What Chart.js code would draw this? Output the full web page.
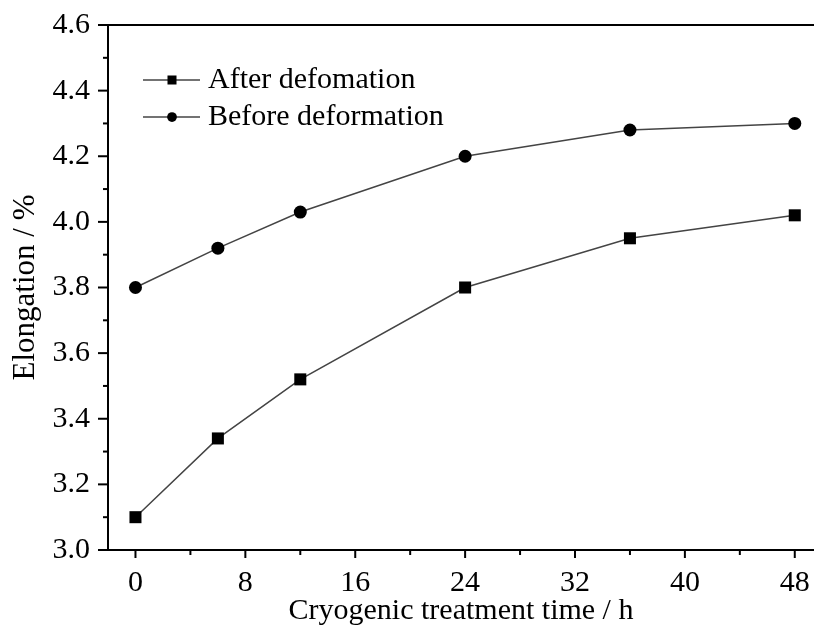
<!DOCTYPE html>
<html>
<head>
<meta charset="utf-8">
<script src="https://cdn.jsdelivr.net/npm/chart.js@4"></script>
<style>
  body { margin: 0; background: #fff; }
  #wrap { width: 814px; height: 631px; }
</style>
</head>
<body>
<div id="wrap"><canvas id="myChart"></canvas></div>
<script>
// data
const hours = [0, 6, 12, 24, 36, 48];
const afterDef = [3.10, 3.34, 3.52, 3.80, 3.95, 4.02];
const beforeDef = [3.80, 3.92, 4.03, 4.20, 4.28, 4.30];
const xTicks = [0, 8, 16, 24, 32, 40, 48];
const yTicks = [3.0, 3.2, 3.4, 3.6, 3.8, 4.0, 4.2, 4.4, 4.6];
const seriesNames = ['After defomation', 'Before deformation'];

const toXY = (xs, ys) => xs.map((x, i) => ({ x: x, y: ys[i] }));
const FONT = '"Liberation Serif", "Times New Roman", serif';

// ticks (major outside + minor midway), top frame, legend
const framePlugin = {
    id: 'frame',
    afterDraw(chart) {
        const ctx = chart.ctx;
        const a = chart.chartArea;
        const xs = chart.scales.x, ys = chart.scales.y;
        ctx.save();
        ctx.strokeStyle = '#000';
        ctx.lineWidth = 2;
        // top frame line
        ctx.beginPath();
        ctx.moveTo(a.left - 1, a.top);
        ctx.lineTo(a.right, a.top);
        ctx.stroke();
        // x ticks
        xTicks.forEach((v, i) => {
            const px = xs.getPixelForValue(v);
            ctx.beginPath(); ctx.moveTo(px, a.bottom); ctx.lineTo(px, a.bottom + 8); ctx.stroke();
            if (i < xTicks.length - 1) {
                const mx = xs.getPixelForValue((v + xTicks[i + 1]) / 2);
                ctx.beginPath(); ctx.moveTo(mx, a.bottom); ctx.lineTo(mx, a.bottom + 5); ctx.stroke();
            }
        });
        // y ticks
        yTicks.forEach((v, i) => {
            const py = ys.getPixelForValue(v);
            ctx.beginPath(); ctx.moveTo(a.left, py); ctx.lineTo(a.left - 10, py); ctx.stroke();
            if (i < yTicks.length - 1) {
                const my = ys.getPixelForValue((v + yTicks[i + 1]) / 2);
                ctx.beginPath(); ctx.moveTo(a.left, my); ctx.lineTo(a.left - 5, my); ctx.stroke();
            }
        });
        // legend
        const lx = a.left + 35, ly = a.top + 55;
        chart.data.datasets.forEach((ds, i) => {
            const y = ly + i * 37;
            ctx.strokeStyle = ds.borderColor;
            ctx.lineWidth = 1.5;
            ctx.beginPath(); ctx.moveTo(lx, y); ctx.lineTo(lx + 57, y); ctx.stroke();
            ctx.fillStyle = '#000';
            Chart.helpers.drawPoint(ctx, { pointStyle: ds.pointStyle, radius: ds.pointRadius * 0.75, borderWidth: 0 }, lx + 29, y);
            ctx.font = '30px ' + FONT;
            ctx.textBaseline = 'middle';
            ctx.fillText(ds.label, lx + 65, y);
        });
        ctx.restore();
    }
};

const ctx = document.getElementById('myChart').getContext('2d');
const myChart = new Chart(ctx, {
    type: 'line',
    data: {
        datasets: [{
            label: seriesNames[0],
            data: toXY(hours, afterDef),
            borderColor: '#444',
            borderWidth: 1.5,
            backgroundColor: '#000',
            pointStyle: 'rect',
            pointRadius: 8.5,
            pointBorderWidth: 0,
            pointBackgroundColor: '#000',
            tension: 0
        }, {
            label: seriesNames[1],
            data: toXY(hours, beforeDef),
            borderColor: '#444',
            borderWidth: 1.5,
            backgroundColor: '#000',
            pointStyle: 'circle',
            pointRadius: 6.5,
            pointBorderWidth: 0,
            pointBackgroundColor: '#000',
            tension: 0
        }]
    },
    options: {
        responsive: true,
        maintainAspectRatio: false,
        animation: false,
        layout: { autoPadding: false, padding: { top: 25, right: 0, left: 0, bottom: 0 } },
        plugins: {
            legend: { display: false },
            tooltip: { enabled: false }
        },
        scales: {
            x: {
                type: 'linear',
                min: -2,
                max: 49.4,
                grid: { display: false },
                border: { display: true, color: '#000', width: 2 },
                afterBuildTicks: (s) => { s.ticks = xTicks.map(v => ({ value: v })); },
                afterFit: (s) => { s.height = 81; s.paddingRight = 0; s.paddingLeft = 0; },
                ticks: {
                    color: '#000',
                    padding: 7,
                    maxRotation: 0,
                    font: { family: FONT, size: 30 }
                },
                title: {
                    display: true,
                    text: 'Cryogenic treatment time / h',
                    color: '#000',
                    padding: { top: 0, bottom: 2 },
                    font: { family: FONT, size: 30 }
                }
            },
            y: {
                min: 3.0,
                max: 4.6,
                grid: { display: false },
                border: { display: true, color: '#000', width: 2 },
                afterBuildTicks: (s) => { s.ticks = yTicks.map(v => ({ value: v })); },
                afterFit: (s) => { s.width = 108; s.paddingTop = 0; s.paddingBottom = 0; },
                ticks: {
                    color: '#000',
                    padding: 10,
                    font: { family: FONT, size: 30 },
                    callback: (v) => Number(v).toFixed(1)
                },
                title: {
                    display: true,
                    text: 'Elongation / %',
                    color: '#000',
                    padding: { top: 7, bottom: 0 },
                    font: { family: FONT, size: 31 }
                }
            }
        }
    },
    plugins: [framePlugin]
});
</script>
</body>
</html>
